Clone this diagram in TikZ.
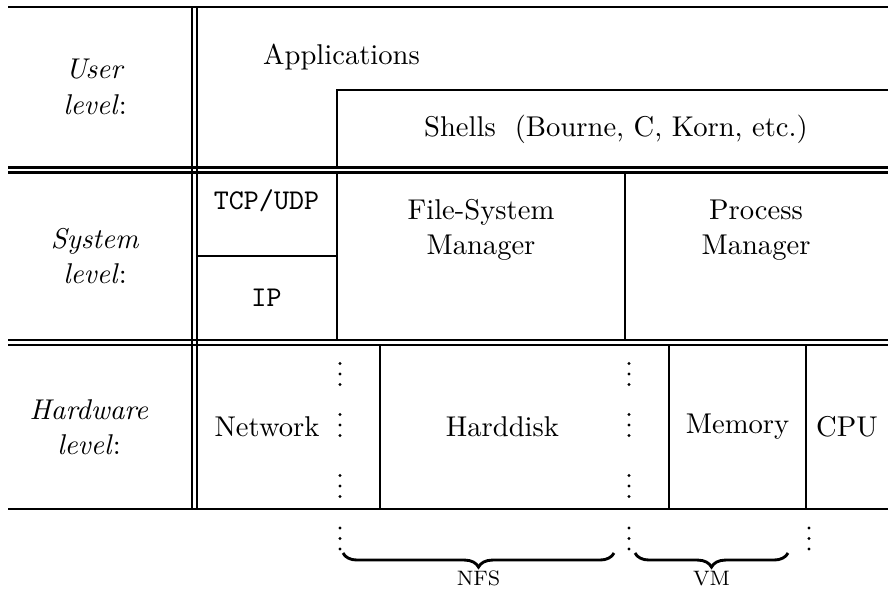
\documentclass[tikz,border=0pt,11pt]{standalone}
\usetikzlibrary{decorations.pathreplacing}

\begin{document}
\begin{tikzpicture}[x=0.383pt, y=-0.383pt, line width=0.9pt,
    rowlabel/.style={align=center},
    cell/.style={align=center},
    layerbrace/.style={decorate, decoration={brace, mirror, amplitude=5.4pt}, line width=1.1pt}]
    \useasboundingbox (0,0) rectangle (888,589);

    % horizontal rules, double ones between the levels
    \draw (8,7) -- (888,7);
    \draw (8,167.5) -- (888,167.5) (8,172.5) -- (888,172.5);
    \draw (8,340) -- (888,340) (8,345) -- (888,345);
    \draw (8,509) -- (888,509);
    % double rule after the label column
    \draw (192,7) -- (192,509) (197,7) -- (197,509);

    % user level
    \draw (337,167.5) |- (888,90);
    \node[rowlabel] (user) at (95,87) {\textit{User}\\\textit{level}:};
    \node[anchor=base west, inner sep=0pt] (apps) at (262,65) {Applications};
    \node[anchor=base west, inner sep=0pt] (shells) at (423,137) {Shells~~(Bourne, C, Korn, etc.)};

    % system level
    \draw (337,172.5) -- (337,340);
    \draw (197,256) -- (337,256);
    \draw (625,172.5) -- (625,340);
    \node[rowlabel] (system) at (95,256) {\textit{System}\\\textit{level}:};
    \node[font=\ttfamily] (tcp) at (266.5,201) {TCP/UDP};
    \node[font=\ttfamily] (ip) at (266.5,298) {IP};
    \node[cell] (fsm) at (481,230) {File-System\\Manager};
    \node[cell] (pm) at (756,230) {Process\\Manager};

    % hardware level
    \foreach \x in {380,669,806}
        \draw (\x,345) -- (\x,509);
    \node[rowlabel] (hardware) at (89,427) {\textit{Hardware}\\\textit{level}:};
    \node (net) at (267,427) {Network};
    \node (hdd) at (502.5,427) {Harddisk};
    \node (mem) at (737.5,427) {Memory};
    \node (cpu) at (847,427) {CPU};

    % vertical dots, three per group
    \foreach \x in {340,629}
        \foreach \b in {384.5,435.5,496.5}
            \foreach \k in {0,1,2}
                \fill (\x,\b-10.5*\k) circle (0.6pt);
    \foreach \x in {340,629,809}
        \foreach \k in {0,1,2}
            \fill (\x,549-10.5*\k) circle (0.6pt);

    % shared resources
    \coordinate (nfsL) at (343,553);
    \coordinate (nfsR) at (614,553);
    \coordinate (vmL) at (635,553);
    \coordinate (vmR) at (788,553);
    \draw[layerbrace] (nfsL) -- (nfsR);
    \draw[layerbrace] (vmL) -- (vmR);
    \node[font=\scriptsize, anchor=base] (nfs) at (478.5,585) {NFS};
    \node[font=\scriptsize, anchor=base] (vm) at (711.5,585) {VM};
\end{tikzpicture}
\end{document}
